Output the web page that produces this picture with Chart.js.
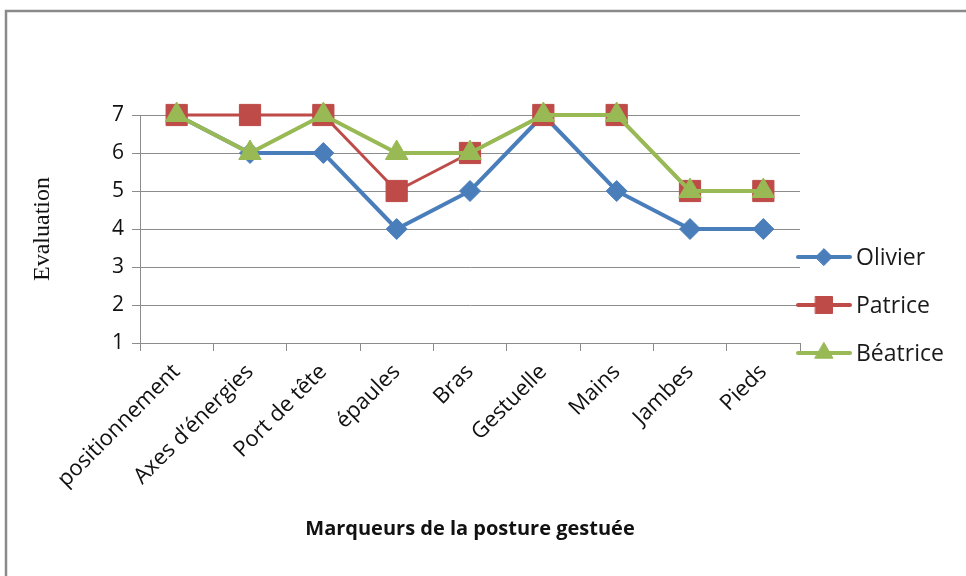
<!DOCTYPE html>
<html>
<head>
<meta charset="utf-8">
<script src="https://cdn.jsdelivr.net/npm/chart.js@4/dist/chart.umd.min.js"></script>
<style>
  html, body { margin: 0; padding: 0; background: #fff; }
  #wrap { width: 966px; height: 576px; }
</style>
</head>
<body>
<div id="wrap"><canvas id="postureChart" width="966" height="576"></canvas></div>
<script>
const categories = ['positionnement', 'Axes d\u2019\u00e9nergies', 'Port de t\u00eate', '\u00e9paules', 'Bras', 'Gestuelle', 'Mains', 'Jambes', 'Pieds'];

// scores
const olivier = [7, 6, 6, 4, 5, 7, 5, 4, 4];
const patrice = [7, 7, 7, 5, 6, 7, 7, 5, 5];
const beatrice = [7, 6, 7, 6, 6, 7, 7, 5, 5];

const yMin = 1;
const yMax = 7;

const blue = '#4A7EBB';
const red = '#BE4B48';
const green = '#98B954';
const gridGrey = '#8C8C8C';
const font = "'Open Sans', 'Noto Sans', sans-serif";

// grey frame around the whole chart (right/bottom edges fall off the page)
const framePlugin = {
    id: 'frame',
    beforeDraw(chart) {
        const ctx = chart.ctx;
        ctx.save();
        ctx.strokeStyle = '#8A8A8A';
        ctx.lineWidth = 2.5;
        ctx.strokeRect(6, 11, 2000, 2000);
        ctx.restore();
    }
};

// legend on the right, drawn like the excel one (line + marker + name)
const legendPlugin = {
    id: 'sideLegend',
    afterDraw(chart) {
        const ctx = chart.ctx;
        const startY = 257;
        const stepY = 48;
        chart.data.datasets.forEach((ds, i) => {
            const y = startY + i * stepY;
            ctx.save();
            ctx.strokeStyle = ds.borderColor;
            ctx.lineWidth = 4;
            ctx.lineCap = 'round';
            ctx.beginPath();
            ctx.moveTo(798, y);
            ctx.lineTo(850, y);
            ctx.stroke();
            ctx.fillStyle = ds.pointBackgroundColor;
            ctx.strokeStyle = ds.pointBorderColor;
            ctx.lineWidth = 1;
            Chart.helpers.drawPoint(ctx, {
                pointStyle: ds.pointStyle,
                radius: ds.pointRadius * 0.8,
                rotation: 0,
                borderWidth: 1
            }, 824, y);
            ctx.fillStyle = '#1a1a1a';
            ctx.font = '23px ' + font;
            ctx.textBaseline = 'middle';
            ctx.textAlign = 'left';
            ctx.fillText(ds.label, 856, y + 1);
            ctx.restore();
        });
    }
};

const ctx = document.getElementById('postureChart').getContext('2d');

new Chart(ctx, {
    type: 'line',
    data: {
        labels: categories,
        datasets: [
            {
                label: 'Olivier',
                data: olivier,
                borderColor: blue,
                borderWidth: 4,
                pointStyle: 'rectRot',
                pointRadius: 10.5,
                pointBackgroundColor: blue,
                pointBorderColor: blue,
                pointBorderWidth: 1,
                clip: false,
                order: 3
            },
            {
                label: 'Patrice',
                data: patrice,
                borderColor: red,
                borderWidth: 3,
                pointStyle: 'rect',
                pointRadius: 15,
                pointBackgroundColor: red,
                pointBorderColor: red,
                pointBorderWidth: 1,
                clip: false,
                order: 2
            },
            {
                label: 'B\u00e9atrice',
                data: beatrice,
                borderColor: green,
                borderWidth: 4,
                pointStyle: 'triangle',
                pointRadius: 13,
                pointBackgroundColor: green,
                pointBorderColor: green,
                pointBorderWidth: 1,
                clip: false,
                order: 1
            }
        ]
    },
    options: {
        responsive: false,
        animation: false,
        events: [],
        layout: {
            padding: { left: 0, right: 166, top: 115, bottom: 0 }
        },
        plugins: {
            legend: { display: false },
            tooltip: { enabled: false }
        },
        scales: {
            x: {
                offset: true,
                afterFit: (scale) => { scale.height = 233; },
                grid: {
                    offset: true,
                    drawOnChartArea: false,
                    drawTicks: true,
                    tickLength: 8,
                    color: gridGrey
                },
                border: { display: true, color: gridGrey },
                ticks: {
                    autoSkip: false,
                    maxRotation: 45,
                    minRotation: 45,
                    padding: 8,
                    color: '#111',
                    font: { family: font, size: 22 }
                },
                title: {
                    display: true,
                    text: 'Marqueurs de la posture gestu\u00e9e',
                    color: '#111',
                    font: { family: font, size: 20, weight: 'bold' },
                    padding: { top: 0, bottom: 35 }
                }
            },
            y: {
                min: yMin,
                max: yMax,
                afterFit: (scale) => { scale.width = 140; },
                grid: {
                    color: gridGrey,
                    drawTicks: true,
                    tickLength: 8
                },
                border: { display: true, color: gridGrey },
                ticks: {
                    stepSize: 1,
                    padding: 8,
                    color: '#111',
                    font: { family: font, size: 21 }
                },
                title: {
                    display: true,
                    text: 'Evaluation',
                    color: '#111',
                    font: { family: "'Liberation Serif', 'DejaVu Serif', serif", size: 24 },
                    padding: { top: 28, bottom: 0 }
                }
            }
        }
    },
    plugins: [framePlugin, legendPlugin]
});
</script>
</body>
</html>
